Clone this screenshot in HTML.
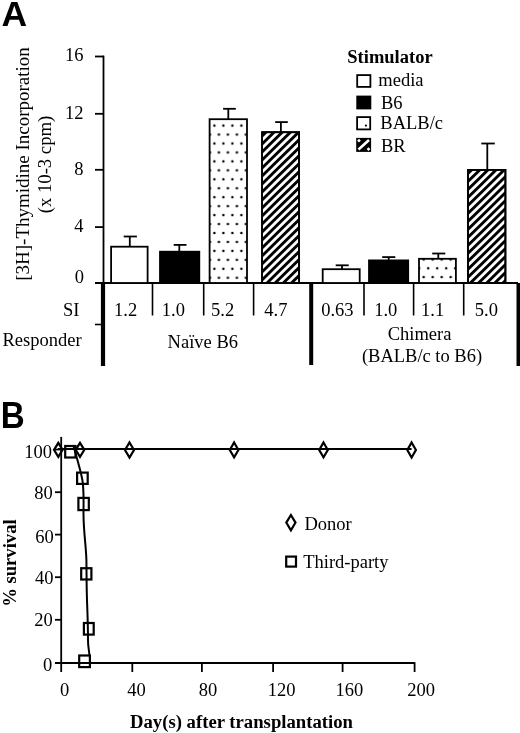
<!DOCTYPE html>
<html><head><meta charset="utf-8"><title>Figure</title>
<style>
html,body{margin:0;padding:0;background:#fff;width:520px;height:733px;overflow:hidden}
svg{display:block}
.s{font-family:"Liberation Serif","Times New Roman",serif;font-size:18.5px;fill:#000}
.b{font-weight:bold}
.h{font-family:"Liberation Sans",Arial,sans-serif;font-weight:bold;font-size:35.5px;fill:#000}
</style></head><body>
<svg width="520" height="733" viewBox="0 0 520 733">
<defs>
<pattern id="dotA" patternUnits="userSpaceOnUse" x="214.4" y="125.6" width="9" height="17.9">
<circle cx="0" cy="0" r="1.25"/><circle cx="9" cy="0" r="1.25"/><circle cx="0" cy="17.9" r="1.25"/><circle cx="9" cy="17.9" r="1.25"/>
<circle cx="4.5" cy="8.95" r="1.25"/>
</pattern>
<pattern id="dotB" patternUnits="userSpaceOnUse" x="428.2" y="268.3" width="9" height="17.6">
<circle cx="0" cy="0" r="1.25"/><circle cx="9" cy="0" r="1.25"/><circle cx="0" cy="17.6" r="1.25"/><circle cx="9" cy="17.6" r="1.25"/>
<circle cx="4.5" cy="8.8" r="1.25"/>
</pattern>
<pattern id="hatch" patternUnits="userSpaceOnUse" width="5.7" height="20" patternTransform="rotate(45.5)">
<rect x="0" y="0" width="2.9" height="20" fill="#000"/>
</pattern>
</defs>

<!-- ===== Panel A ===== -->
<text class="h" x="1.5" y="26">A</text>

<!-- y axis label -->
<text class="s" transform="translate(28.5,164) rotate(-90)" text-anchor="middle" textLength="233.5" lengthAdjust="spacingAndGlyphs">[3H]-Thymidine Incorporation</text>
<text class="s" transform="translate(50.7,164.5) rotate(-90)" text-anchor="middle" textLength="97.5" lengthAdjust="spacingAndGlyphs">(x 10-3 cpm)</text>

<!-- y tick labels -->
<g class="s" text-anchor="end">
<text x="83.5" y="61">16</text>
<text x="83.5" y="118.5">12</text>
<text x="83.5" y="174.5">8</text>
<text x="83.5" y="231.6">4</text>
<text x="84.1" y="283.4">0</text>
</g>

<g stroke="#000" fill="none">
<!-- y axis -->
<line x1="103.5" y1="55.7" x2="103.5" y2="283" stroke-width="1.8"/>
<line x1="95" y1="56.5" x2="104" y2="56.5" stroke-width="1.8"/>
<line x1="95" y1="113.8" x2="104" y2="113.8" stroke-width="1.8"/>
<line x1="95" y1="169.8" x2="104" y2="169.8" stroke-width="1.8"/>
<line x1="95" y1="227.1" x2="104" y2="227.1" stroke-width="1.8"/>
<!-- x axis -->
<line x1="95" y1="283" x2="518" y2="283" stroke-width="1.8"/>
<!-- table lines -->
<line x1="103" y1="283" x2="103" y2="366" stroke-width="4.2"/>
<line x1="311.2" y1="283" x2="311.2" y2="365" stroke-width="4"/>
<line x1="518.3" y1="283" x2="518.3" y2="366" stroke-width="3.6"/>
<line x1="95" y1="324.5" x2="103" y2="324.5" stroke-width="1.6"/>
<g stroke-width="1.6">
<line x1="152.5" y1="283" x2="152.5" y2="315.5"/>
<line x1="203.7" y1="283" x2="203.7" y2="315.5"/>
<line x1="253.6" y1="283" x2="253.6" y2="315.5"/>
<line x1="364" y1="283" x2="364" y2="315.5"/>
<line x1="413.6" y1="283" x2="413.6" y2="315.5"/>
<line x1="463.7" y1="283" x2="463.7" y2="315.5"/>
</g>
</g>

<!-- bars -->
<g stroke="#000" stroke-width="1.8">
<!-- error bars -->
<line x1="129.8" y1="236.5" x2="129.8" y2="246"/><line x1="123.7" y1="236.5" x2="136.9" y2="236.5"/>
<line x1="179.3" y1="244.9" x2="179.3" y2="251"/><line x1="173.7" y1="244.9" x2="186.5" y2="244.9"/>
<line x1="228.3" y1="108.8" x2="228.3" y2="119"/><line x1="223.1" y1="108.8" x2="235.8" y2="108.8"/>
<line x1="280.9" y1="122.1" x2="280.9" y2="132"/><line x1="275.2" y1="122.1" x2="287.8" y2="122.1"/>
<line x1="342" y1="265.3" x2="342" y2="269"/><line x1="335.7" y1="265.3" x2="348.7" y2="265.3"/>
<line x1="388.7" y1="257.1" x2="388.7" y2="260"/><line x1="382.2" y1="257.1" x2="395.3" y2="257.1"/>
<line x1="438.3" y1="253.5" x2="438.3" y2="258"/><line x1="432.2" y1="253.5" x2="445.3" y2="253.5"/>
<line x1="487.3" y1="143.5" x2="487.3" y2="169"/><line x1="481.3" y1="143.5" x2="494.8" y2="143.5"/>
</g>
<g stroke="#000" stroke-width="1.8">
<rect x="111.1" y="246.7" width="36.5" height="36.3" fill="#fff"/>
<rect x="159.1" y="250.8" width="41.1" height="32.2" fill="#000" stroke="none"/>
<rect x="209.6" y="119.2" width="37.4" height="163.8" fill="#fff"/>
<rect x="209.6" y="119.2" width="37.4" height="163.8" fill="url(#dotA)" stroke="none"/>
<rect x="262.1" y="132.2" width="37" height="150.8" fill="#fff"/>
<rect x="262.1" y="132.2" width="37" height="150.8" fill="url(#hatch)"/>
<rect x="322.7" y="269.2" width="37" height="13.8" fill="#fff"/>
<rect x="368.1" y="259.5" width="41" height="23.5" fill="#000" stroke="none"/>
<rect x="419" y="258.8" width="36.9" height="24.2" fill="#fff"/>
<rect x="419" y="258.8" width="36.9" height="24.2" fill="url(#dotB)" stroke="none"/>
<rect x="468" y="169.9" width="37.4" height="113.1" fill="#fff"/>
<rect x="468" y="169.9" width="37.4" height="113.1" fill="url(#hatch)"/>
</g>

<!-- SI / responder text -->
<g class="s">
<text x="63" y="315.6">SI</text>
<text x="2.5" y="346">Responder</text>
<g text-anchor="middle">
<text x="125.6" y="316.2">1.2</text>
<text x="173.4" y="316.2">1.0</text>
<text x="222.6" y="316.2">5.2</text>
<text x="275.9" y="316.2">4.7</text>
<text x="337.4" y="315.6">0.63</text>
<text x="385.7" y="315.6">1.0</text>
<text x="432.6" y="315.6">1.1</text>
<text x="486.4" y="315.8">5.0</text>
<text x="202.8" y="347.9">Naïve B6</text>
<text x="419.6" y="339.6">Chimera</text>
<text x="422" y="362.3">(BALB/c to B6)</text>
</g>
</g>

<!-- legend A -->
<text class="s b" x="347.3" y="62.7">Stimulator</text>
<g stroke="#000" stroke-width="1.8">
<rect x="357.2" y="75.1" width="13.2" height="11.8" fill="#fff"/>
<rect x="356.3" y="95.6" width="15" height="13.8" fill="#000" stroke="none"/>
<rect x="357.1" y="117.1" width="13.1" height="12.3" fill="#fff"/>
<rect x="356.2" y="137.9" width="14.9" height="14" fill="#000" stroke="none"/>
</g>
<circle cx="365.9" cy="125.6" r="1.1"/>
<g stroke="#fff" stroke-width="2.6" stroke-linecap="butt">
<line x1="358.5" y1="149.5" x2="369" y2="140"/>
<line x1="358" y1="141.5" x2="360" y2="139.7"/>
<line x1="367.5" y1="150" x2="369.5" y2="148.2"/>
</g>
<g class="s">
<text x="378.3" y="85.5">media</text>
<text x="381" y="108.6">B6</text>
<text x="380.3" y="129.2">BALB/c</text>
<text x="381" y="151.5">BR</text>
</g>

<!-- ===== Panel B ===== -->
<text class="h" transform="translate(0.7,427.8) scale(0.935,1.025)">B</text>
<text class="s b" transform="translate(16.4,563.1) rotate(-90)" text-anchor="middle" textLength="87.5" lengthAdjust="spacingAndGlyphs">% survival</text>

<g class="s" text-anchor="end">
<text x="52" y="457.8">100</text>
<text x="52.7" y="498.8">80</text>
<text x="53.7" y="543.1">60</text>
<text x="53.5" y="583.9">40</text>
<text x="52.7" y="626.1">20</text>
<text x="52.3" y="670.6">0</text>
</g>
<g class="s" text-anchor="middle">
<text x="64.6" y="696.2">0</text>
<text x="136.5" y="696.2">40</text>
<text x="207.9" y="696.2">80</text>
<text x="281.5" y="696.2">120</text>
<text x="349.4" y="696.2">160</text>
<text x="421.2" y="696.2">200</text>
</g>
<text class="s b" x="130" y="727.8" textLength="223" lengthAdjust="spacingAndGlyphs">Day(s) after transplantation</text>

<g stroke="#000" fill="none" stroke-width="1.8">
<line x1="61.2" y1="436.9" x2="61.2" y2="672"/>
<line x1="55" y1="663" x2="414.6" y2="663"/>
<line x1="55" y1="449.5" x2="61.2" y2="449.5"/>
<line x1="55" y1="492.2" x2="61.2" y2="492.2"/>
<line x1="55" y1="534.6" x2="61.2" y2="534.6"/>
<line x1="55" y1="577.2" x2="61.2" y2="577.2"/>
<line x1="55" y1="619.8" x2="61.2" y2="619.8"/>
<line x1="132.3" y1="663" x2="132.3" y2="672"/>
<line x1="201.9" y1="663" x2="201.9" y2="672"/>
<line x1="273.1" y1="663" x2="273.1" y2="672"/>
<line x1="342.6" y1="663" x2="342.6" y2="672"/>
<line x1="414.6" y1="662.2" x2="414.6" y2="672"/>
<!-- donor line -->
<line x1="58" y1="449" x2="411.6" y2="449" stroke-width="2"/>
<!-- third party curve -->
<path d="M73.5,446 C76,455 80,468 82.4,480 C84,490 83.6,500 83.5,512 C83.3,530 86,545 86.4,560 C86.6,575 86.5,585 87,600 C87.5,615 88,625 88,640 C88,648 89.5,652 89.4,656" stroke-width="2"/>
</g>
<!-- diamonds -->
<g stroke="#000" fill="none" stroke-width="2.2">
<path d="M58.3,442.8 L62.6,449.8 L58.3,456.8 L54,449.8 Z"/>
<path d="M80,442.8 L84.3,449.8 L80,456.8 L75.7,449.8 Z"/>
<path d="M129.5,442.5 L134,450 L129.5,457.6 L125,450 Z"/>
<path d="M234.1,442.5 L238.4,450 L234.1,457.4 L229.8,450 Z"/>
<path d="M323.5,442.5 L327.8,450 L323.5,457.4 L319.2,450 Z"/>
<path d="M411.6,442.5 L415.9,450 L411.6,457.6 L407.3,450 Z"/>
<path d="M290.9,515 L295.5,522.6 L290.9,530.3 L286.3,522.6 Z"/>
</g>
<!-- squares -->
<g stroke="#000" fill="none" stroke-width="2.2">
<rect x="65.2" y="446" width="10.3" height="11.5"/>
<rect x="77.1" y="472.6" width="10.6" height="11.3"/>
<rect x="78.4" y="497.9" width="10.4" height="12.2"/>
<rect x="81.2" y="568.2" width="10.2" height="11.3"/>
<rect x="83.9" y="623" width="9.8" height="11.6"/>
<rect x="79.2" y="655.5" width="10.7" height="11.6"/>
<rect x="286.2" y="556.6" width="9.8" height="10"/>
</g>
<g class="s">
<text x="304.5" y="530.2">Donor</text>
<text x="303.2" y="568.1">Third-party</text>
</g>
</svg>
</body></html>
